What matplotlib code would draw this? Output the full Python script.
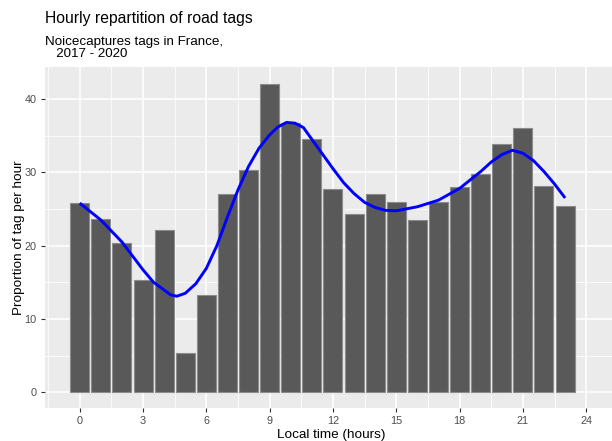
import matplotlib
matplotlib.use("Agg")
import matplotlib.pyplot as plt

plt.rcParams['font.family'] = ['Liberation Sans', 'DejaVu Sans']

# hourly tag proportions
hours = list(range(24))
proportion = [25.8, 23.6, 20.4, 15.3, 22.2, 5.4, 13.3, 27.0, 30.3, 42.1, 36.7, 34.5,
              27.7, 24.3, 27.0, 25.9, 23.5, 25.9, 28.0, 29.8, 33.9, 36.0, 28.2, 25.4]

# smooth curve, points
smooth_x = [0, 1, 2, 3, 3.5, 4, 4.3, 4.6, 5, 5.5, 6, 6.5, 7, 7.5, 8, 8.5, 9, 9.4, 9.8, 10.2,
            10.6, 11, 11.5, 12, 12.5, 13, 13.5, 14, 14.5, 15, 16, 17, 18, 19, 19.5, 20,
            20.5, 21, 21.5, 22, 22.5, 23]
smooth_y = [25.8, 23.5, 20.5, 16.7, 15.0, 13.95, 13.3, 13.1, 13.5, 14.8, 16.9, 20.0, 23.9,
            27.6, 30.8, 33.3, 35.1, 36.2, 36.8, 36.7, 36.1, 34.5, 32.5, 30.5, 28.6, 27.1,
            25.9, 25.2, 24.8, 24.75, 25.3, 26.2, 27.8, 30.1, 31.4, 32.4, 33.0, 32.6, 31.6,
            30.1, 28.4, 26.5]

fig = plt.figure(figsize=(6.12, 4.41), dpi=100)
ax = fig.add_axes([45 / 612, 1 - 407.7 / 441, 26.29 * 21.79 / 612, 341 / 441])
ax.set_facecolor('#EBEBEB')

ax.bar(hours, proportion, width=0.9, color='#595959', edgecolor='#8C8C8C', linewidth=0.8, zorder=3)
ax.plot(smooth_x, smooth_y, color='#0000FF', linewidth=2.1, zorder=4, solid_capstyle='butt')

ax.set_xlim(-1.645, 24.645)
ax.set_ylim(-2.1, 44.4)
ax.set_xticks([0, 3, 6, 9, 12, 15, 18, 21, 24])
ax.set_yticks([0, 10, 20, 30, 40])
ax.set_xticks([x + 1.5 for x in range(-3, 25, 3)], minor=True)
ax.set_yticks([5, 15, 25, 35], minor=True)
ax.grid(which='major', color='white', linewidth=1.1, zorder=0)
ax.grid(which='minor', color='white', linewidth=0.55, zorder=0)
ax.set_axisbelow(True)
for s in ax.spines.values():
    s.set_visible(False)
ax.tick_params(which='major', length=3, color='#333333', labelcolor='#4D4D4D', labelsize=7.8, pad=3)
ax.tick_params(which='minor', length=0)

ax.set_xlabel('Local time (hours)', fontsize=9.7, labelpad=2)
ax.set_ylabel('Proportion of tag per hour', fontsize=9.7, labelpad=0)

fig.text(45 / 612, 1 - 23 / 441, 'Hourly repartition of road tags', fontsize=11.3, va='baseline', ha='left')
fig.text(45 / 612, 1 - 45.3 / 441, 'Noicecaptures tags in France,', fontsize=9.6, va='baseline', ha='left')
fig.text(45 / 612, 1 - 57.3 / 441, '   2017 - 2020', fontsize=9.6, va='baseline', ha='left')

fig.savefig('out.png', dpi=100)
